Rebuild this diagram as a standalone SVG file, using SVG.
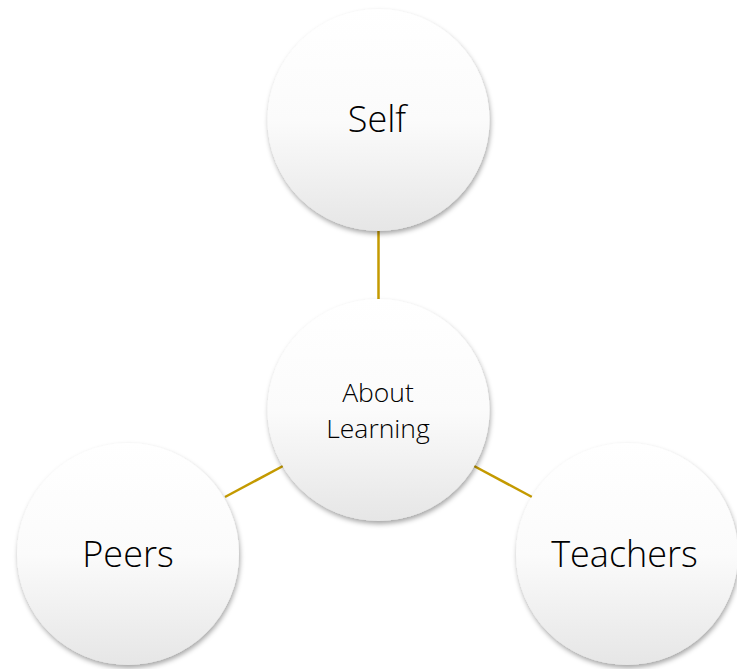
<svg xmlns="http://www.w3.org/2000/svg" width="737" height="669" viewBox="0 0 737 669">
<defs>
<linearGradient id="g" x1="0" y1="0" x2="0" y2="1">
<stop offset="0" stop-color="#ffffff"/>
<stop offset="0.5" stop-color="#fbfbfb"/>
<stop offset="1" stop-color="#e6e6e6"/>
</linearGradient>
<filter id="sh" x="-20%" y="-20%" width="140%" height="140%">
<feDropShadow dx="1" dy="3" stdDeviation="2.5" flood-color="#000" flood-opacity="0.35"/>
</filter>
</defs>
<style>
.c{fill:url(#g);filter:url(#sh);}
.t{font-family:"Open Sans","Noto Sans",sans-serif;font-weight:300;fill:#000;text-anchor:middle;}
.big{font-size:36px;}
.small{font-size:26.5px;}
.ln{stroke:#C49A00;stroke-width:2.5;fill:none;}
</style>
<rect width="737" height="669" fill="#ffffff"/>
<g id="connectors">
<line class="ln" x1="378.5" y1="230" x2="378.5" y2="300"/>
<line class="ln" x1="225" y1="497" x2="283" y2="466"/>
<line class="ln" x1="474" y1="466" x2="532" y2="497"/>
</g>
<g id="self">
<circle class="c" cx="378.5" cy="120" r="111"/>
<text class="t big" x="377" y="132">Self</text>
</g>
<g id="about">
<circle class="c" cx="378.5" cy="410" r="111"/>
<text class="t small" x="378" y="401.5">About</text>
<text class="t small" x="378" y="437.5">Learning</text>
</g>
<g id="peers">
<circle class="c" cx="128" cy="554" r="111"/>
<text class="t big" x="128" y="567">Peers</text>
</g>
<g id="teachers">
<circle class="c" cx="627" cy="554" r="111"/>
<text class="t big" x="624.5" y="567">Teachers</text>
</g>
</svg>
